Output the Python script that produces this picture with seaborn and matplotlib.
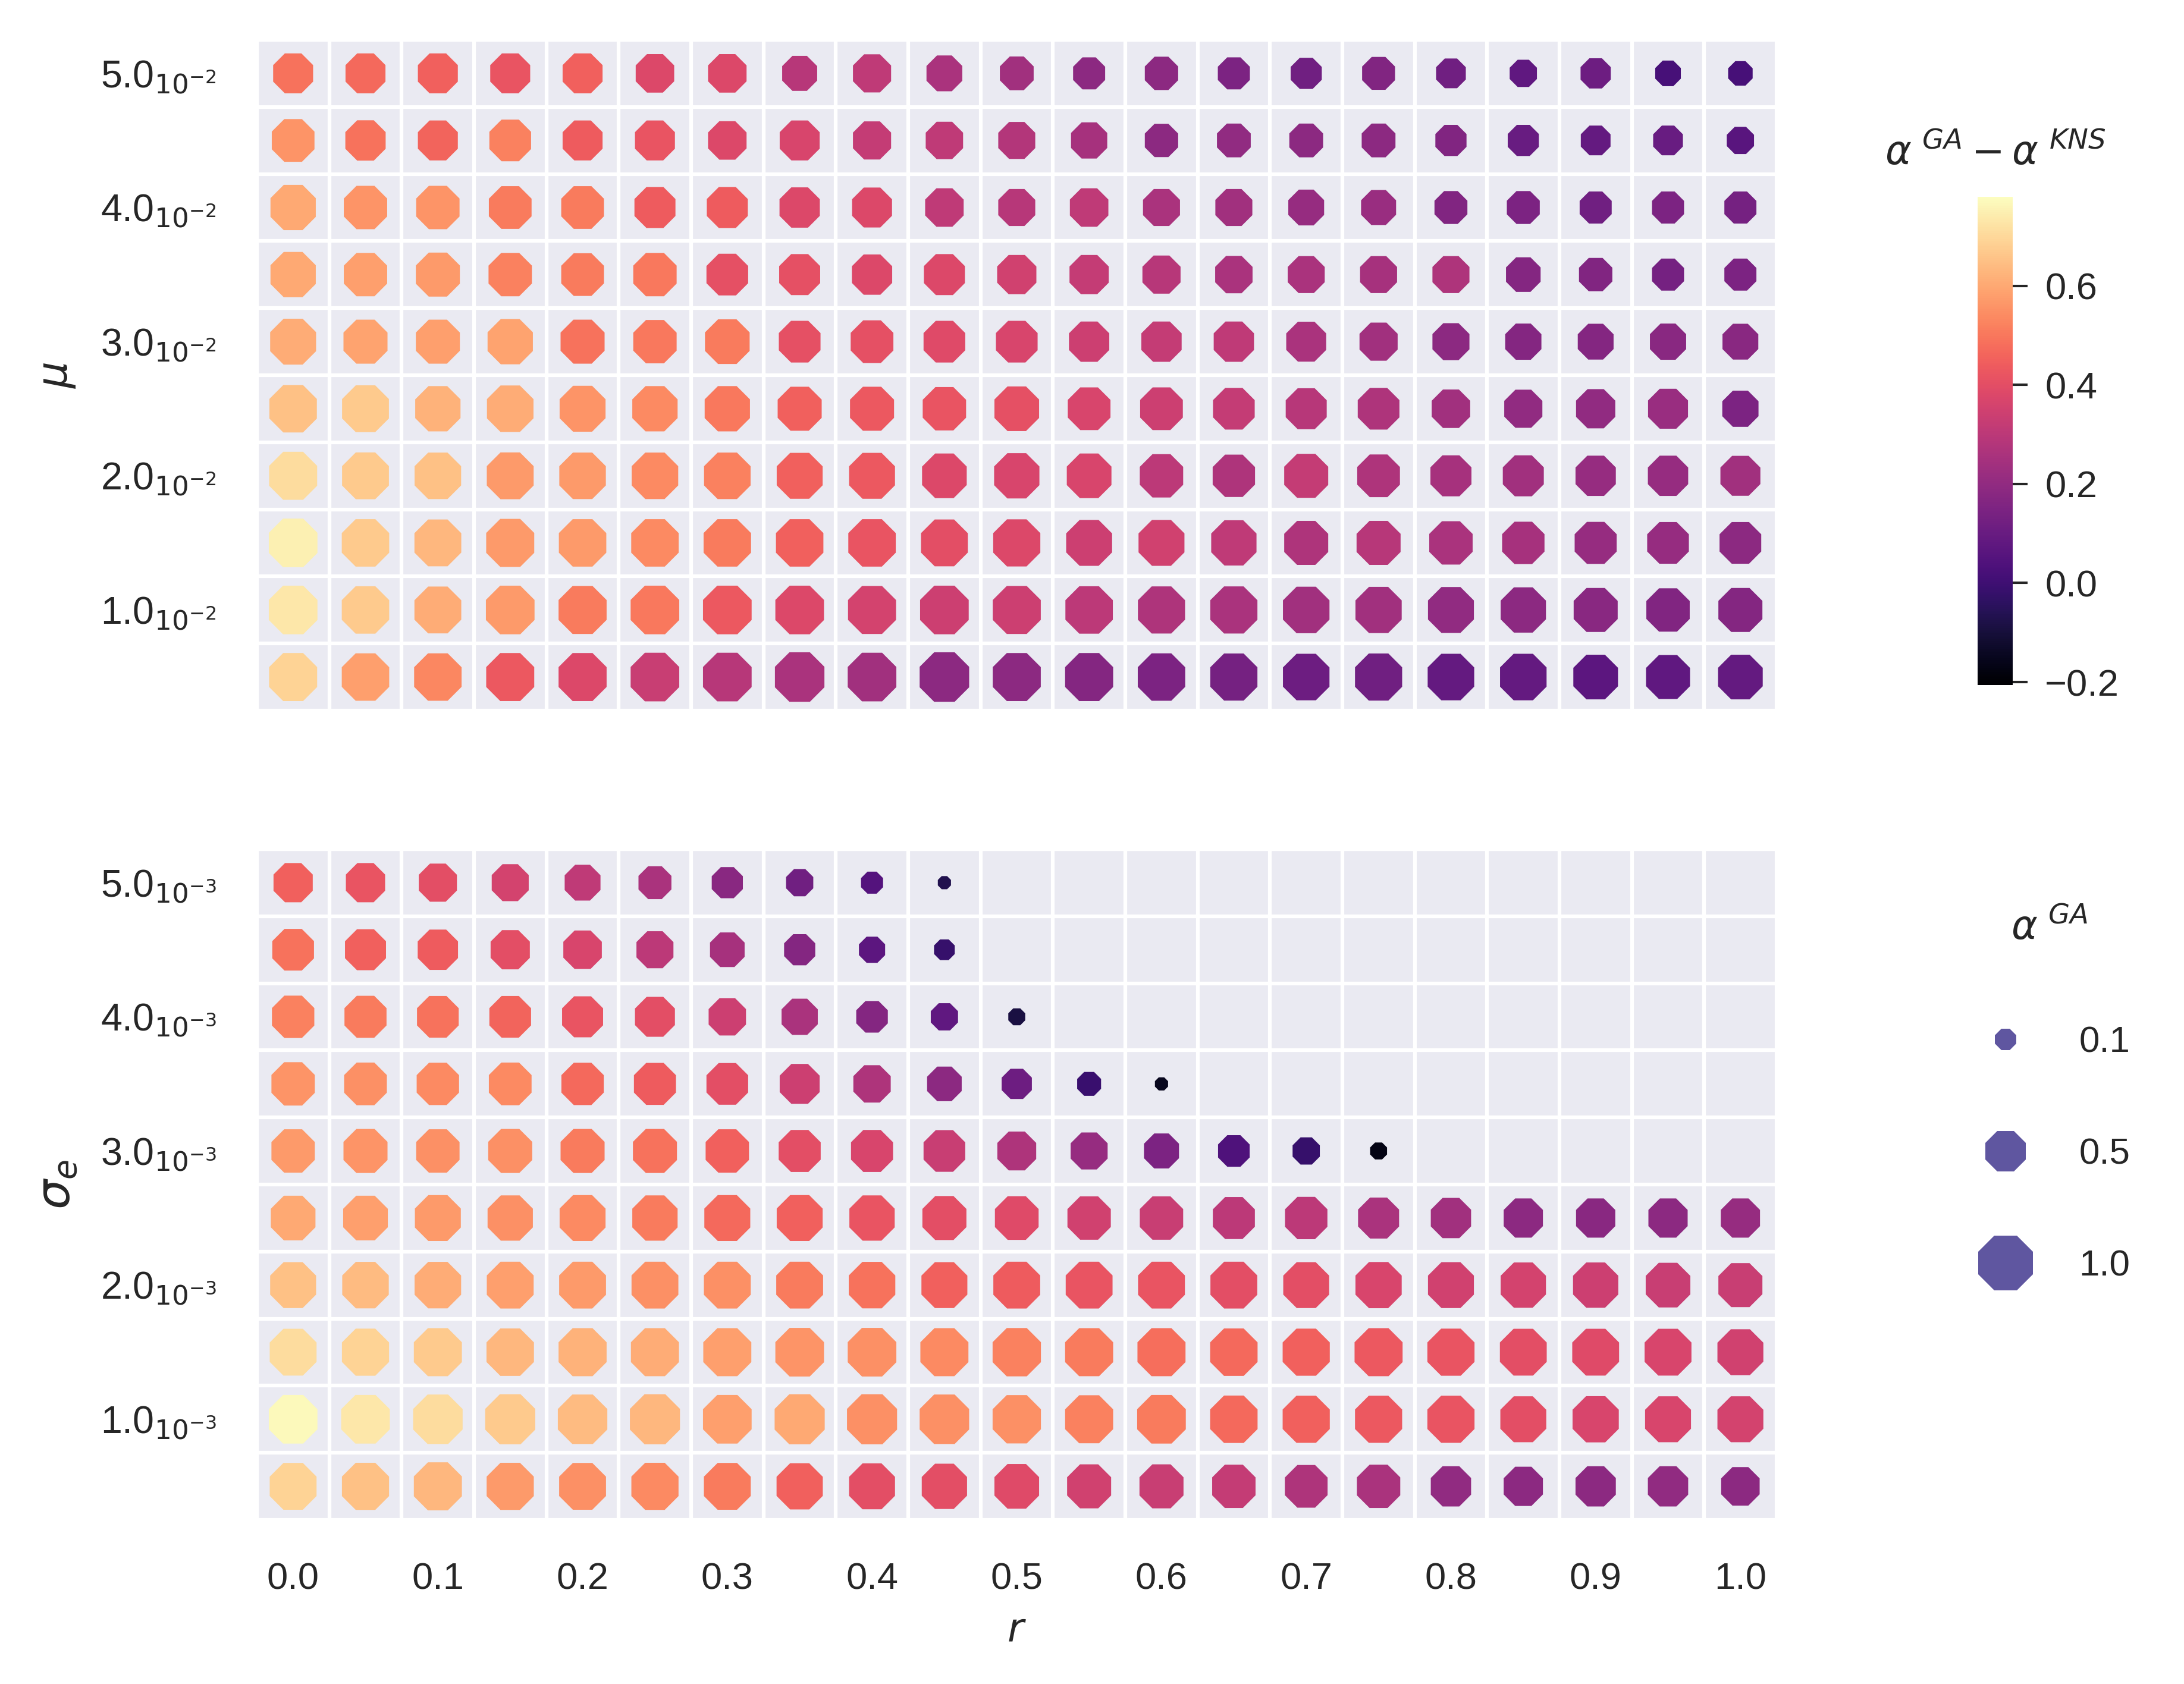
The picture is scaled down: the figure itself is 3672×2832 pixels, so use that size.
import numpy as np
import pandas as pd
import matplotlib
matplotlib.use("Agg")
import matplotlib.pyplot as plt
from matplotlib.lines import Line2D
from matplotlib.cm import ScalarMappable
from matplotlib.colors import Normalize
import seaborn as sns

sns.set_theme(style="darkgrid", context="notebook", font_scale=1.35)
plt.rcParams["font.family"] = "sans-serif"
plt.rcParams["font.sans-serif"] = ["Liberation Sans", "DejaVu Sans"]

# ---------------------------------------------------------------------------
# data
# ---------------------------------------------------------------------------
r_values = [0.0, 0.05, 0.1, 0.15, 0.2, 0.25, 0.3, 0.35, 0.4, 0.45, 0.5,
            0.55, 0.6, 0.65, 0.7, 0.75, 0.8, 0.85, 0.9, 0.95, 1.0]

# rows listed top to bottom
mu_values = [0.050, 0.045, 0.040, 0.035, 0.030, 0.025, 0.020, 0.015, 0.010, 0.005]
sigma_values = [0.0050, 0.0045, 0.0040, 0.0035, 0.0030, 0.0025, 0.0020, 0.0015, 0.0010, 0.0005]

mu_ticks = [0.01, 0.02, 0.03, 0.04, 0.05]
mu_tick_labels = [r"1.0$_{10^{-2}}$", r"2.0$_{10^{-2}}$", r"3.0$_{10^{-2}}$",
                  r"4.0$_{10^{-2}}$", r"5.0$_{10^{-2}}$"]
sigma_ticks = [0.001, 0.002, 0.003, 0.004, 0.005]
sigma_tick_labels = [r"1.0$_{10^{-3}}$", r"2.0$_{10^{-3}}$", r"3.0$_{10^{-3}}$",
                     r"4.0$_{10^{-3}}$", r"5.0$_{10^{-3}}$"]
r_ticks = [0.0, 0.1, 0.2, 0.3, 0.4, 0.5, 0.6, 0.7, 0.8, 0.9, 1.0]

# alpha^GA (marker size), mu panel
mu_alpha_ga = [
    [0.50, 0.50, 0.50, 0.50, 0.50, 0.46, 0.46, 0.37, 0.45, 0.39, 0.34, 0.30, 0.33, 0.30, 0.28, 0.32, 0.25, 0.20, 0.26, 0.17, 0.15],
    [0.58, 0.51, 0.50, 0.55, 0.50, 0.50, 0.46, 0.50, 0.45, 0.43, 0.42, 0.40, 0.33, 0.34, 0.34, 0.34, 0.28, 0.28, 0.25, 0.25, 0.20],
    [0.66, 0.60, 0.60, 0.58, 0.58, 0.53, 0.53, 0.51, 0.50, 0.46, 0.42, 0.46, 0.42, 0.42, 0.39, 0.37, 0.32, 0.32, 0.30, 0.30, 0.30],
    [0.66, 0.60, 0.62, 0.60, 0.58, 0.60, 0.55, 0.53, 0.51, 0.53, 0.48, 0.48, 0.45, 0.43, 0.42, 0.42, 0.42, 0.36, 0.33, 0.30, 0.30],
    [0.68, 0.62, 0.62, 0.66, 0.62, 0.60, 0.64, 0.55, 0.58, 0.55, 0.55, 0.51, 0.51, 0.51, 0.50, 0.45, 0.42, 0.40, 0.39, 0.40, 0.39],
    [0.73, 0.71, 0.66, 0.70, 0.68, 0.66, 0.66, 0.62, 0.62, 0.60, 0.64, 0.58, 0.58, 0.55, 0.53, 0.55, 0.46, 0.45, 0.48, 0.50, 0.40],
    [0.75, 0.71, 0.70, 0.71, 0.70, 0.70, 0.70, 0.68, 0.68, 0.64, 0.66, 0.64, 0.60, 0.57, 0.62, 0.58, 0.53, 0.53, 0.51, 0.51, 0.50],
    [0.77, 0.73, 0.71, 0.75, 0.73, 0.73, 0.73, 0.73, 0.73, 0.71, 0.72, 0.68, 0.68, 0.66, 0.62, 0.62, 0.60, 0.57, 0.56, 0.55, 0.55],
    [0.77, 0.73, 0.71, 0.77, 0.75, 0.77, 0.77, 0.77, 0.75, 0.77, 0.75, 0.73, 0.72, 0.72, 0.70, 0.69, 0.68, 0.66, 0.62, 0.60, 0.62],
    [0.75, 0.73, 0.73, 0.75, 0.75, 0.77, 0.77, 0.80, 0.77, 0.80, 0.75, 0.75, 0.73, 0.72, 0.70, 0.72, 0.70, 0.70, 0.64, 0.62, 0.64],
]

# alpha^GA - alpha^KNS (marker colour), mu panel
mu_diff = [
    [0.49, 0.47, 0.45, 0.42, 0.45, 0.38, 0.38, 0.29, 0.31, 0.26, 0.24, 0.19, 0.19, 0.15, 0.12, 0.16, 0.12, 0.08, 0.11, 0.02, 0.02],
    [0.56, 0.49, 0.46, 0.52, 0.44, 0.42, 0.38, 0.37, 0.32, 0.31, 0.28, 0.25, 0.19, 0.20, 0.19, 0.19, 0.16, 0.10, 0.09, 0.10, 0.06],
    [0.60, 0.56, 0.56, 0.51, 0.51, 0.44, 0.44, 0.38, 0.38, 0.31, 0.29, 0.31, 0.26, 0.24, 0.21, 0.22, 0.16, 0.15, 0.12, 0.15, 0.13],
    [0.60, 0.58, 0.57, 0.52, 0.51, 0.50, 0.41, 0.41, 0.38, 0.38, 0.35, 0.32, 0.29, 0.26, 0.26, 0.25, 0.27, 0.17, 0.16, 0.13, 0.15],
    [0.61, 0.59, 0.58, 0.59, 0.49, 0.50, 0.51, 0.41, 0.41, 0.39, 0.37, 0.34, 0.32, 0.31, 0.26, 0.24, 0.19, 0.17, 0.17, 0.18, 0.18],
    [0.65, 0.67, 0.62, 0.61, 0.56, 0.54, 0.50, 0.45, 0.43, 0.42, 0.41, 0.37, 0.34, 0.32, 0.29, 0.27, 0.24, 0.20, 0.20, 0.22, 0.15],
    [0.71, 0.67, 0.65, 0.57, 0.57, 0.54, 0.52, 0.45, 0.43, 0.38, 0.37, 0.37, 0.30, 0.27, 0.32, 0.27, 0.25, 0.24, 0.21, 0.21, 0.24],
    [0.75, 0.67, 0.63, 0.57, 0.57, 0.54, 0.51, 0.45, 0.42, 0.40, 0.38, 0.34, 0.35, 0.31, 0.27, 0.29, 0.26, 0.25, 0.21, 0.21, 0.19],
    [0.73, 0.67, 0.61, 0.57, 0.51, 0.50, 0.43, 0.38, 0.36, 0.34, 0.34, 0.30, 0.27, 0.26, 0.24, 0.24, 0.20, 0.19, 0.18, 0.16, 0.17],
    [0.69, 0.58, 0.53, 0.43, 0.38, 0.33, 0.29, 0.26, 0.24, 0.19, 0.19, 0.17, 0.15, 0.13, 0.11, 0.12, 0.09, 0.09, 0.07, 0.08, 0.09],
]

N = None  # no result for this cell
# alpha^GA (marker size), sigma_e panel
sigma_alpha_ga = [
    [0.48, 0.48, 0.45, 0.42, 0.39, 0.32, 0.28, 0.20, 0.11, 0.00, N, N, N, N, N, N, N, N, N, N, N],
    [0.55, 0.53, 0.51, 0.48, 0.46, 0.42, 0.36, 0.28, 0.18, 0.09, N, N, N, N, N, N, N, N, N, N, N],
    [0.57, 0.56, 0.55, 0.55, 0.53, 0.50, 0.43, 0.40, 0.29, 0.20, 0.04, N, N, N, N, N, N, N, N, N, N],
    [0.60, 0.58, 0.57, 0.58, 0.57, 0.56, 0.55, 0.50, 0.43, 0.36, 0.26, 0.14, 0.00, N, N, N, N, N, N, N, N],
    [0.60, 0.62, 0.60, 0.62, 0.62, 0.62, 0.60, 0.56, 0.56, 0.55, 0.47, 0.42, 0.37, 0.29, 0.20, 0.04, N, N, N, N, N],
    [0.64, 0.64, 0.68, 0.66, 0.68, 0.66, 0.68, 0.68, 0.66, 0.62, 0.61, 0.60, 0.60, 0.56, 0.57, 0.53, 0.51, 0.48, 0.48, 0.48, 0.48],
    [0.68, 0.70, 0.70, 0.71, 0.71, 0.71, 0.71, 0.71, 0.70, 0.68, 0.71, 0.71, 0.71, 0.71, 0.68, 0.69, 0.68, 0.66, 0.66, 0.64, 0.62],
    [0.71, 0.72, 0.75, 0.73, 0.75, 0.75, 0.75, 0.77, 0.77, 0.75, 0.76, 0.75, 0.75, 0.73, 0.72, 0.75, 0.72, 0.71, 0.71, 0.71, 0.68],
    [0.77, 0.77, 0.80, 0.82, 0.80, 0.82, 0.77, 0.82, 0.82, 0.80, 0.76, 0.75, 0.77, 0.73, 0.72, 0.72, 0.72, 0.68, 0.69, 0.68, 0.68],
    [0.71, 0.72, 0.75, 0.72, 0.71, 0.72, 0.71, 0.69, 0.68, 0.66, 0.64, 0.62, 0.62, 0.60, 0.58, 0.60, 0.51, 0.48, 0.51, 0.51, 0.46],
]

# alpha^GA - alpha^KNS (marker colour), sigma_e panel
sigma_diff = [
    [0.45, 0.42, 0.40, 0.36, 0.31, 0.26, 0.18, 0.12, 0.05, -0.07, N, N, N, N, N, N, N, N, N, N, N],
    [0.49, 0.45, 0.44, 0.40, 0.37, 0.30, 0.25, 0.17, 0.07, -0.02, N, N, N, N, N, N, N, N, N, N, N],
    [0.52, 0.51, 0.49, 0.46, 0.42, 0.40, 0.34, 0.26, 0.17, 0.08, -0.09, N, N, N, N, N, N, N, N, N, N],
    [0.56, 0.55, 0.54, 0.54, 0.47, 0.44, 0.40, 0.34, 0.27, 0.19, 0.11, -0.01, -0.15, N, N, N, N, N, N, N, N],
    [0.57, 0.56, 0.55, 0.55, 0.51, 0.49, 0.45, 0.40, 0.37, 0.33, 0.27, 0.21, 0.15, 0.04, -0.02, -0.17, N, N, N, N, N],
    [0.60, 0.58, 0.57, 0.55, 0.54, 0.51, 0.47, 0.45, 0.42, 0.40, 0.39, 0.35, 0.33, 0.30, 0.30, 0.26, 0.24, 0.19, 0.18, 0.19, 0.21],
    [0.65, 0.64, 0.61, 0.58, 0.57, 0.55, 0.55, 0.51, 0.49, 0.45, 0.44, 0.42, 0.42, 0.40, 0.40, 0.37, 0.35, 0.36, 0.34, 0.33, 0.33],
    [0.71, 0.69, 0.67, 0.63, 0.62, 0.61, 0.58, 0.56, 0.55, 0.54, 0.52, 0.51, 0.48, 0.47, 0.45, 0.43, 0.42, 0.40, 0.39, 0.37, 0.35],
    [0.77, 0.73, 0.71, 0.67, 0.64, 0.63, 0.58, 0.60, 0.55, 0.55, 0.55, 0.52, 0.51, 0.47, 0.45, 0.43, 0.42, 0.40, 0.37, 0.37, 0.36],
    [0.69, 0.65, 0.63, 0.57, 0.55, 0.54, 0.51, 0.45, 0.40, 0.40, 0.39, 0.35, 0.33, 0.32, 0.27, 0.26, 0.20, 0.19, 0.19, 0.20, 0.19],
]

legend_levels = [0.1, 0.5, 1.0]

# ---------------------------------------------------------------------------
# styling
# ---------------------------------------------------------------------------
DIFF_MIN, DIFF_MAX = -0.206, 0.78
SIZE_RANGE = (33, 576)  # marker area (pt^2) for alpha^GA = 0 and 1
CMAP = "magma"
LEGEND_COLOR = "#5f56a0"
TICK_SIZE = 15.2


def to_long(row_values, alpha_rows, diff_rows):
    records = []
    for y, a_row, d_row in zip(row_values, alpha_rows, diff_rows):
        for x, a, d in zip(r_values, a_row, d_row):
            if a is None or d is None:
                continue
            records.append({"r": x, "y": y, "alpha": a, "diff": d})
    return pd.DataFrame(records)


def draw_panel(ax, df, row_values, ticks, tick_labels):
    sns.scatterplot(
        data=df, x="r", y="y", hue="diff", size="alpha",
        palette=CMAP, hue_norm=(DIFF_MIN, DIFF_MAX),
        sizes=SIZE_RANGE, size_norm=(0, 1),
        marker="8", linewidth=0, legend=False, ax=ax,
    )
    step_x = r_values[1] - r_values[0]
    step_y = row_values[0] - row_values[1]
    x_edges = [x - step_x / 2 for x in r_values] + [r_values[-1] + step_x / 2]
    y_edges = [y - step_y / 2 for y in row_values] + [row_values[0] + step_y / 2]
    ax.set_xlim(x_edges[0], x_edges[-1])
    ax.set_ylim(min(y_edges), max(y_edges))
    ax.set_xticks(x_edges, minor=True)
    ax.set_yticks(y_edges, minor=True)
    ax.set_xticks(r_ticks)
    ax.set_xticklabels([f"{t:.1f}" for t in r_ticks])
    ax.set_yticks(ticks)
    ax.set_yticklabels(tick_labels)
    ax.grid(False, which="major")
    ax.grid(True, which="minor", color="white", linewidth=1.5)
    ax.tick_params(which="both", length=0, labelsize=TICK_SIZE)
    ax.tick_params(axis="x", pad=17)
    ax.tick_params(axis="y", pad=16.5, labelsize=15.5)
    ax.set_xlabel("")


fig = plt.figure(figsize=(12.24, 9.44), dpi=300)
ax1 = fig.add_axes([0.11765, 0.57804, 0.69580, 0.39831])
ax2 = fig.add_axes([0.11765, 0.09746, 0.69580, 0.39831])
cax = fig.add_axes([0.90550, 0.59322, 0.01607, 0.28990])

draw_panel(ax1, to_long(mu_values, mu_alpha_ga, mu_diff), mu_values, mu_ticks, mu_tick_labels)
draw_panel(ax2, to_long(sigma_values, sigma_alpha_ga, sigma_diff), sigma_values, sigma_ticks, sigma_tick_labels)

ax1.tick_params(axis="x", labelbottom=False)
ax1.set_ylabel(r"$\mu$", fontsize=17, labelpad=9.5)
ax2.set_ylabel(r"$\sigma_e$", fontsize=19, labelpad=8)
ax2.set_xlabel(r"$r$", fontsize=16, labelpad=6.5)

# colour bar
sm = ScalarMappable(norm=Normalize(DIFF_MIN, DIFF_MAX), cmap=CMAP)
cbar = fig.colorbar(sm, cax=cax, ticks=[-0.2, 0.0, 0.2, 0.4, 0.6])
cbar.outline.set_visible(False)
cax.tick_params(axis="y", right=True, length=6, width=1.0, pad=7, labelsize=TICK_SIZE)
cax.set_title(r"$\alpha^{\ GA} - \alpha^{\ KNS}$", fontsize=16, pad=13)

# size legend
handles = [
    Line2D([], [], linestyle="", marker="8", markeredgewidth=0,
           markerfacecolor=LEGEND_COLOR,
           markersize=np.sqrt(SIZE_RANGE[0] + v * (SIZE_RANGE[1] - SIZE_RANGE[0])))
    for v in legend_levels
]
fig.legend(
    handles, [f"{v:.1f}" for v in legend_levels],
    title=r"$\alpha^{\ GA}$", title_fontsize=16, fontsize=14.85,
    loc="upper center", bbox_to_anchor=(0.9384, 0.4715),
    frameon=False, labelspacing=2.12, handletextpad=1.0, borderpad=0,
)

fig.savefig("out.png", dpi=300)
